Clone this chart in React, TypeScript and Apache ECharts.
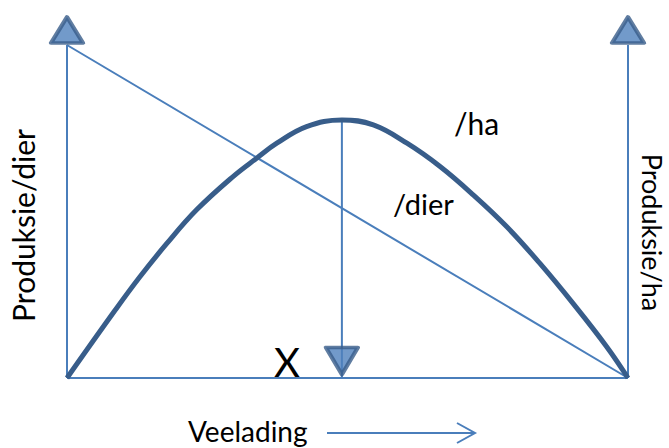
import React, { useEffect, useRef } from "react";
import * as echarts from "echarts";

// Curve (Produksie/ha), x = Veelading (0..100), y = production (0..100)
const haX = [0, 8.6, 13.0, 17.8, 23.1, 29.6, 33.8, 37.4, 42.7, 49.0, 54.6, 60.6, 66.5, 72.4, 78.4, 84.3, 90.2, 96.2, 100];
const haY = [0, 20.4, 30.4, 40.4, 50.5, 60.5, 66.0, 70.5, 75.5, 77.5, 76.0, 70.5, 63.5, 55.0, 45.4, 34.4, 22.4, 9.4, 0];

// Straight line (Produksie/dier)
const dierX = [0, 100];
const dierY = [100, 0];

// Axes frame
const leftAxis = [[0, 0], [0, 100]];
const rightAxis = [[100, 0], [100, 100]];
const bottomAxis = [[0, 0], [100, 0]];

// Optimum X
const optimumX = 49.0;
const optimumY = 77.5;

const labelHa = "/ha";
const labelDier = "/dier";
const labelX = "X";
const labelXAxis = "Veelading";
const labelLeft = "Produksie/dier";
const labelRight = "Produksie/ha";

const THIN = "#4A7EBB";
const DARK = "#385D8A";
const FILL = "#4F81BD";
const FONT = "Lato";

export default function App() {
  const ref = useRef<HTMLDivElement>(null);
  useEffect(() => {
    if (!ref.current) return;
    const chart = echarts.init(ref.current, null, { renderer: "svg" });
    const thinLine = (name: string, data: number[][]) => ({
      name,
      type: "line",
      data,
      symbol: "none",
      clip: false,
      silent: true,
      lineStyle: { color: THIN, width: 2 },
      z: 2,
    });
    const triStyle = { color: FILL, borderColor: DARK, borderWidth: 4, borderJoin: "round" };
    chart.setOption({
      animation: false,
      backgroundColor: "#fff",
      grid: { left: 67, right: 41, top: 45, bottom: 70 },
      xAxis: { type: "value", min: 0, max: 100, show: false },
      yAxis: { type: "value", min: 0, max: 100, show: false },
      series: [
        thinLine("left", leftAxis),
        thinLine("right", rightAxis),
        thinLine("bottom", bottomAxis),
        thinLine("dier", dierX.map((x, i) => [x, dierY[i]])),
        {
          name: "ha",
          type: "line",
          data: haX.map((x, i) => [x, haY[i]]),
          smooth: 0.4,
          symbol: "none",
          clip: false,
          lineStyle: { color: DARK, width: 5 },
          z: 3,
        },
        thinLine("drop", [[optimumX, optimumY], [optimumX, 0]]),
        {
          name: "upArrows",
          type: "scatter",
          data: [[0, 100], [100, 100]],
          symbol: "triangle",
          symbolSize: [32, 26],
          symbolOffset: [0, -15],
          itemStyle: triStyle,
          clip: false,
          z: 5,
        },
        {
          name: "downArrow",
          type: "scatter",
          data: [[optimumX, 0]],
          symbol: "triangle",
          symbolSize: [32, 27],
          symbolRotate: 180,
          symbolOffset: [0, -17],
          itemStyle: triStyle,
          clip: false,
          z: 5,
        },
      ],
      graphic: [
        { type: "text", x: 454, y: 123, style: { text: labelHa, font: `30px ${FONT}`, fill: "#000", align: "left", verticalAlign: "middle" } },
        { type: "text", x: 393, y: 203, style: { text: labelDier, font: `29px ${FONT}`, fill: "#000", align: "left", verticalAlign: "middle" } },
        { type: "text", x: 287, y: 362, style: { text: labelX, font: `40px ${FONT}`, fill: "#000", align: "center", verticalAlign: "middle" } },
        { type: "text", x: 188, y: 431, style: { text: labelXAxis, font: `28px ${FONT}`, fill: "#000", align: "left", verticalAlign: "middle" } },
        { type: "text", x: 22.5, y: 225.5, rotation: Math.PI / 2, style: { text: labelLeft, font: `30px ${FONT}`, fill: "#000", align: "center", verticalAlign: "middle" } },
        { type: "text", x: 652, y: 232.5, rotation: -Math.PI / 2, style: { text: labelRight, font: `27px ${FONT}`, fill: "#000", align: "center", verticalAlign: "middle" } },
        { type: "line", shape: { x1: 327, y1: 433, x2: 475, y2: 433 }, style: { stroke: THIN, lineWidth: 2 } },
        { type: "polyline", shape: { points: [[457, 423], [475, 433], [457, 443]] }, style: { stroke: THIN, lineWidth: 2, fill: null } },
      ],
    });
    return () => chart.dispose();
  }, []);
  return <div ref={ref} style={{ position: "fixed", left: 0, top: 0, width: 669, height: 448 }} />;
}
